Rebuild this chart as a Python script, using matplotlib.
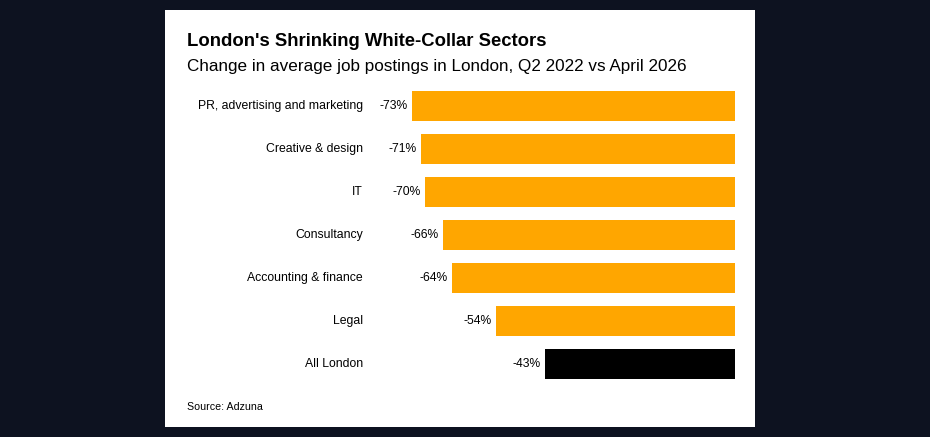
import matplotlib.pyplot as plt
from matplotlib.patches import Rectangle

sectors = ["PR, advertising and marketing", "Creative & design", "IT", "Consultancy",
           "Accounting & finance", "Legal", "All London"]
changes = [-73, -71, -70, -66, -64, -54, -43]
colors = ["#FFA600"] * 6 + ["#000000"]

W, H = 930, 437
fig = plt.figure(figsize=(W / 100, H / 100), dpi=100)
fig.patch.set_facecolor("#0d1220")
fig.patches.append(Rectangle((165 / W, 10 / H), 590 / W, 417 / H, transform=fig.transFigure,
                             facecolor="white", edgecolor="none", zorder=-1))

ax = fig.add_axes([412 / W, 1 - 385.5 / H, 323 / W, 301 / H])
ax.set_zorder(5)
ax.set_facecolor("none")
y = range(len(sectors))
ax.barh(y, changes, height=0.7, color=colors)
ax.set_xlim(-73, 0)
ax.set_ylim(len(sectors) - 0.5, -0.5)
ax.axis("off")

for i, (name, v) in enumerate(zip(sectors, changes)):
    ax.annotate(f"{v}%", (v, i), xytext=(-3, 0), textcoords="offset points",
                ha="right", va="center", fontsize=8.7, family="Liberation Sans")
    fig.text(363 / W, 1 - (106 + 43 * i) / H, name, ha="right", va="center",
             fontsize=8.8, family="Liberation Sans")

fig.text(187 / W, 1 - 42 / H, "London's Shrinking White-Collar Sectors", fontsize=13.3,
         fontweight="bold", va="center", family="Liberation Sans")
fig.text(187 / W, 1 - 67 / H, "Change in average job postings in London, Q2 2022 vs April 2026",
         fontsize=12.3, va="center", family="Liberation Sans")
fig.text(187 / W, 1 - 407 / H, "Source: Adzuna", fontsize=7.7, va="center",
         family="Liberation Sans")

fig.savefig("out.png", dpi=100, facecolor=fig.get_facecolor())
